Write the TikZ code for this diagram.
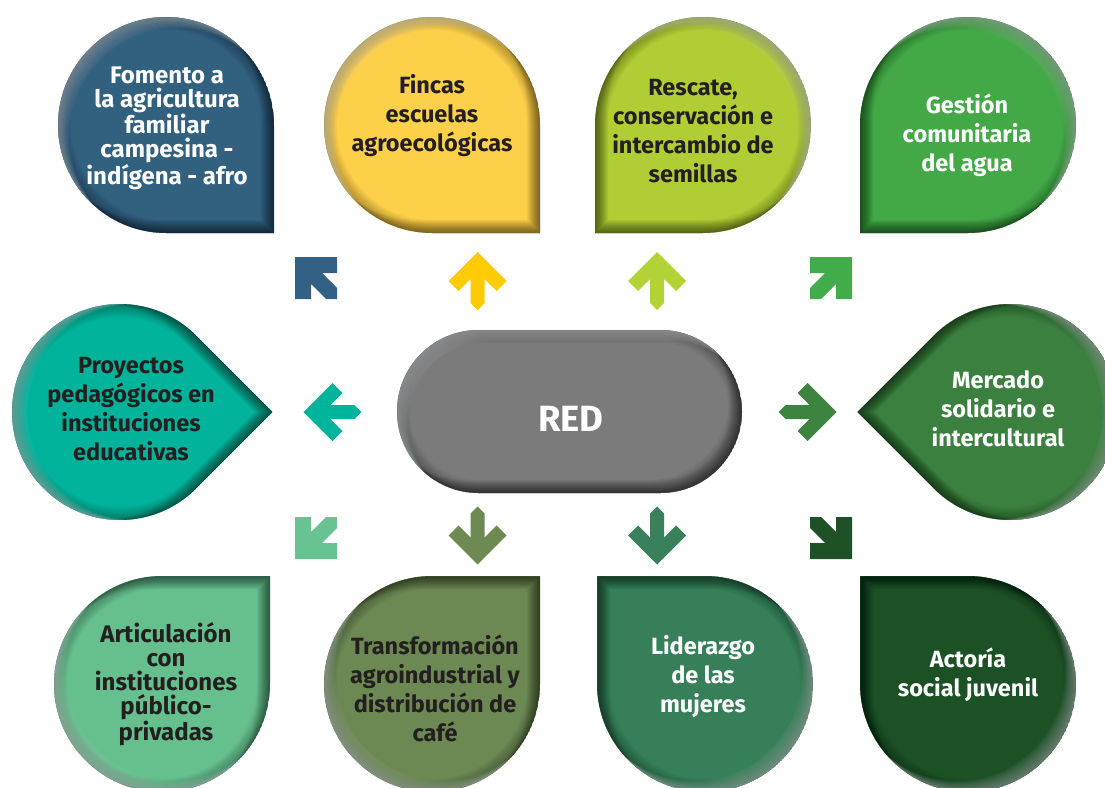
\documentclass[tikz,border=0pt]{standalone}
\usepackage{fontspec}
\setmainfont{Fira Sans}
\definecolor{txtdark}{HTML}{231F20}
\definecolor{hl}{HTML}{C8CCCE}
\definecolor{cFom}{HTML}{32607F}
\definecolor{cFin}{HTML}{FDD04A}
\definecolor{cRes}{HTML}{B1CD36}
\definecolor{cGes}{HTML}{43A947}
\definecolor{cPro}{HTML}{00B39A}
\definecolor{cMer}{HTML}{3C8040}
\definecolor{cArt}{HTML}{66C08E}
\definecolor{cTra}{HTML}{6D8953}
\definecolor{cLid}{HTML}{367F58}
\definecolor{cAct}{HTML}{1C5126}
\definecolor{cRed}{HTML}{7B7B7B}
\definecolor{aFom}{HTML}{336185}
\definecolor{aFin}{HTML}{FFCB05}
\definecolor{aRes}{HTML}{B2D235}
\definecolor{aGes}{HTML}{43AC4A}
\definecolor{aPro}{HTML}{00B49C}
\definecolor{aMer}{HTML}{3D8441}
\definecolor{aArt}{HTML}{68C291}
\definecolor{aTra}{HTML}{6E8A53}
\definecolor{aLid}{HTML}{39815A}
\definecolor{aAct}{HTML}{1E5126}
\tikzset{
  lbl/.style={font=\bfseries\fontsize{23.5}{29}\selectfont, align=center, inner sep=0pt},
  lbltight/.style={font=\bfseries\fontsize{24}{24.3}\selectfont, align=center, inner sep=0pt},
  dk/.style={text=txtdark},
  wt/.style={text=white},
}
% teardrop outline, square corner at bottom-right (y grows downward)
\newcommand\tearpath[2]{(#1+108,#2+108) -- (#1+108,#2) arc[start angle=0,end angle=-270,radius=108] -- cycle}
\newcommand\tear[4]{%
  \begin{scope}[rotate around={#3:(#1,#2)}]
    \begin{scope}
      \clip \tearpath{#1}{#2};
      \fill[#4] \tearpath{#1}{#2};
      \foreach \w in {2,4,...,26} {\draw[black,opacity=0.022,line width=\w] \tearpath{#1}{#2};}
      \foreach \d in {1,2,...,13} {\fill[black,opacity=0.022,even odd rule] \tearpath{#1}{#2} \tearpath{#1-\d}{#2-\d};}
      \foreach \d in {1,2,...,11} {\fill[hl,opacity=0.055,even odd rule] \tearpath{#1}{#2} \tearpath{#1+\d}{#2+\d};}
    \end{scope}
  \end{scope}}
\newcommand\pillpath[2]{(397+#1,330+#2) rectangle (742+#1,493+#2)}
% straight block arrow (pointing up before rotation)
\newcommand\blockarrow[4]{%
  \begin{scope}[shift={(#1,#2)},rotate=#3]
    \fill[#4] (0,-29) -- (29,0) -- (19,10) -- (7,-2) -- (7,22) -- (0,29) -- (-7,22) -- (-7,-2) -- (-19,10) -- (-29,0) -- cycle;
  \end{scope}}
% diagonal corner arrow (pointing up-left before rotation)
\newcommand\cornerarrow[4]{%
  \begin{scope}[shift={(#1,#2)},rotate=#3]
    \fill[#4] (-21,-21) -- (21,-21) -- (21,-5) -- (6,-5) -- (21,10) -- (21,21) -- (10,21) -- (-5,6) -- (-5,21) -- (-21,21) -- cycle;
  \end{scope}}
\begin{document}
\begin{tikzpicture}[x=1pt,y=-1pt]
\useasboundingbox (0,0) rectangle (1105,787);
\clip (0,0) rectangle (1105,787);
\fill[white] (0,0) rectangle (1105,787);

% shapes
\tear{166}{125}{0}{cFom}
\tear{432}{125}{0}{cFin}
\tear{703}{125}{-90}{cRes}
\tear{968}{125}{-90}{cGes}
\tear{120}{412}{45}{cPro}
\tear{1010}{412}{-135}{cMer}
\tear{162}{684}{90}{cArt}
\tear{432}{684}{90}{cTra}
\tear{705}{684}{180}{cLid}
\tear{968}{684}{180}{cAct}

% central pill
\begin{scope}
  \clip[rounded corners=81.5] \pillpath{0}{0};
  \fill[cRed,rounded corners=81.5] \pillpath{0}{0};
  \foreach \w in {2,4,...,26} {\draw[black,opacity=0.022,line width=\w,rounded corners=81.5] \pillpath{0}{0};}
  \foreach \d in {1,2,...,13} {\fill[black,opacity=0.03,even odd rule,rounded corners=81.5] \pillpath{0}{0} \pillpath{-\d}{-\d};}
  \foreach \d in {1,2,...,11} {\fill[hl,opacity=0.055,even odd rule,rounded corners=81.5] \pillpath{0}{0} \pillpath{\d}{\d};}
\end{scope}

% arrows
\cornerarrow{316}{278}{0}{aFom}
\blockarrow{477.7}{281}{0}{aFin}
\blockarrow{657}{281}{0}{aRes}
\cornerarrow{831}{278}{-90}{aGes}
\blockarrow{332.5}{412}{90}{aPro}
\blockarrow{807.5}{412}{-90}{aMer}
\cornerarrow{316}{538}{90}{aArt}
\blockarrow{477.7}{535.5}{180}{aTra}
\blockarrow{657}{535.5}{180}{aLid}
\cornerarrow{831}{538}{180}{aAct}

% labels
\node[lbltight,wt] (fom) at (167,128) {Fomento a\\la agricultura\\familiar\\campesina -\\indígena - afro};
\node[lbl,dk] (fin) at (432,116) {Fincas\\escuelas\\agroecológicas};
\node[lbl,dk] (res) at (693,131) {Rescate,\\conservación e\\intercambio de\\semillas};
\node[lbl,wt] (ges) at (967,135) {Gestión\\comunitaria\\del agua};
\node[lbl,dk] (pro) at (131,409) {Proyectos\\pedagógicos en\\instituciones\\educativas};
\node[lbl,wt] (mer) at (998,409) {Mercado\\solidario e\\intercultural};
\node[lbltight,dk] (art) at (166,684) {Articulación\\con\\instituciones\\público-\\privadas};
\node[lbl,dk] (tra) at (435,688) {Transformación\\agroindustrial y\\distribución de\\café};
\node[lbl,wt] (lid) at (703,677) {Liderazgo\\de las\\mujeres};
\node[lbl,wt] (act) at (968,675) {Actoría\\social juvenil};
\node[font=\bfseries\fontsize{36.5}{40}\selectfont,text=white,inner sep=0pt] (red) at (571,419) {RED};
\end{tikzpicture}
\end{document}
